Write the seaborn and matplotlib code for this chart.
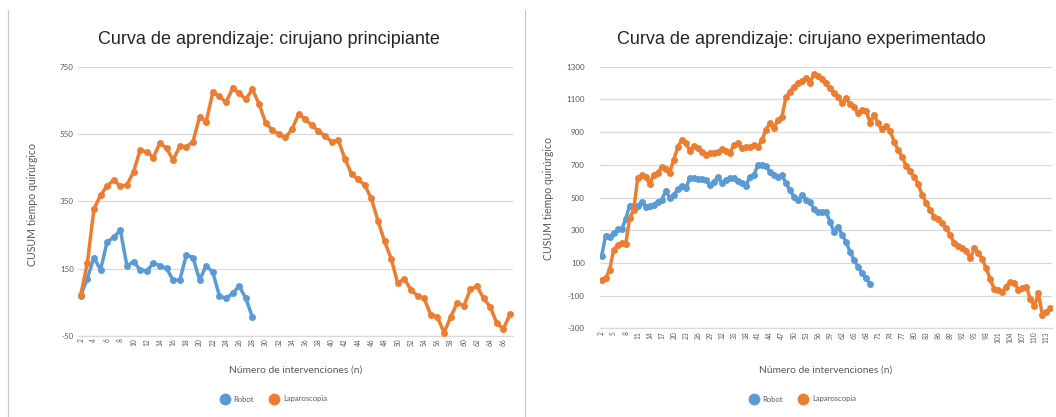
import matplotlib
matplotlib.use("Agg")
import matplotlib.pyplot as plt
from matplotlib.lines import Line2D
import pandas as pd
import seaborn as sns

# ---------------- data ----------------
left_robot = [69, 120, 183, 146, 230, 243, 265, 158, 171, 146, 143, 166, 159, 151,
              115, 116, 191, 183, 116, 159, 139, 69, 61, 76, 98, 61, 5]
left_lap = [71, 166, 327, 369, 396, 414, 396, 399, 439, 503, 498, 481, 525, 508,
            474, 515, 513, 528, 603, 588, 675, 663, 646, 687, 672, 655, 684, 641,
            585, 563, 550, 541, 566, 611, 595, 577, 560, 545, 528, 533, 477, 432,
            416, 399, 359, 293, 231, 180, 106, 120, 86, 69, 61, 12, 7, -41, 5, 48,
            39, 88, 98, 61, 36, -13, -29, 14]
right_robot = [142, 267, 261, 281, 305, 305, 367, 450, 450, 450, 475, 444, 450, 454,
               475, 485, 540, 499, 515, 550, 570, 556, 617, 617, 611, 611, 607, 577,
               597, 623, 591, 607, 617, 617, 603, 591, 570, 627, 638, 699, 699, 693,
               658, 638, 623, 638, 587, 546, 505, 485, 515, 485, 475, 428, 413, 413,
               413, 352, 291, 321, 271, 230, 169, 118, 77, 36, 6, -29]
right_lap = [-4, 6, 57, 179, 210, 224, 214, 373, 424, 617, 638, 627, 583, 638, 652,
             685, 672, 652, 729, 807, 852, 835, 786, 815, 804, 780, 760, 774, 774,
             780, 795, 786, 774, 821, 831, 801, 807, 811, 821, 807, 852, 913, 954,
             923, 974, 994, 1112, 1147, 1178, 1198, 1213, 1229, 1202, 1255, 1243,
             1225, 1198, 1168, 1137, 1117, 1080, 1106, 1072, 1055, 1015, 1035, 1031,
             958, 1004, 954, 917, 937, 909, 841, 790, 750, 693, 660, 627, 583, 515,
             468, 424, 383, 366, 342, 312, 271, 220, 203, 189, 175, 128, 189, 162,
             122, 67, 0, -61, -65, -76, -45, -14, -21, -65, -55, -45, -123, -163,
             -86, -218, -198, -177]
first_n = 2
left_xticks = list(range(2, 67, 2))
right_xticks = list(range(2, 114, 3))
left_yticks = [-50, 150, 350, 550, 750]
right_yticks = [-300, -100, 100, 300, 500, 700, 900, 1100, 1300]
series_names = ["Robot", "Laparoscopia"]
titles = ["Curva de aprendizaje: cirujano principiante",
          "Curva de aprendizaje: cirujano experimentado"]
xlabel = "Número de intervenciones (n)"
ylabel = "CUSUM tiempo quirúrgico"

BLUE = "#5B9BD5"
ORANGE = "#ED7D31"
GRID = "#d9d9d9"
TXT = "#595959"

sns.set_theme(style="white")
plt.rcParams["font.family"] = ["Lato", "DejaVu Sans"]


def make_df(robot, lap):
    rows = []
    for name, vals in zip(series_names, [robot, lap]):
        for i, v in enumerate(vals):
            rows.append({"n": first_n + i, "cusum": v, "serie": name})
    return pd.DataFrame(rows)


W, H = 1056, 417
fig = plt.figure(figsize=(W / 100, H / 100), dpi=100)
ax1 = fig.add_axes([78 / W, 1 - 335.7 / H, (513 - 78) / W, (335.7 - 67.3) / H])
ax2 = fig.add_axes([600 / W, 1 - 328.3 / H, (1052 - 600) / W, (328.3 - 66.7) / H])

specs = [
    (ax1, make_df(left_robot, left_lap), (1.59, 67.45), (-50, 750), left_xticks, left_yticks, 3),
    (ax2, make_df(right_robot, right_lap), (1.6, 114.4), (-300, 1300), right_xticks, right_yticks, 11),
]

for ax, df, xl, yl, xt, yt, ypad in specs:
    sns.lineplot(data=df, x="n", y="cusum", hue="serie", palette=[BLUE, ORANGE],
                 marker="o", markersize=5, markeredgewidth=0, linewidth=2.5,
                 ax=ax, legend=False, zorder=3)
    ax.set_xlim(*xl)
    ax.set_ylim(*yl)
    ax.set_xticks(xt)
    ax.set_xticklabels([str(t) for t in xt], rotation=90, fontsize=4.8, color=TXT)
    ax.set_yticks(yt)
    ax.set_yticklabels([str(t) for t in yt], fontsize=5.8, color=TXT)
    ax.tick_params(axis="x", length=0, pad=2)
    ax.tick_params(axis="y", length=0, pad=ypad)
    ax.grid(axis="y", color=GRID, linewidth=0.9)
    ax.grid(axis="x", visible=False)
    for s in ["left", "right", "top"]:
        ax.spines[s].set_visible(False)
    ax.spines["bottom"].set_color(GRID)
    ax.spines["bottom"].set_linewidth(0.9)
    ax.set_xlabel("")
    ax.set_ylabel("")
    ax.set_axisbelow(True)

# titles
title_font = ["Liberation Sans", "DejaVu Sans"]
fig.text(269 / W, 1 - 40 / H, titles[0], ha="center", va="center", fontsize=13,
         color="#262626", family=title_font)
fig.text(801 / W, 1 - 40 / H, titles[1], ha="center", va="center", fontsize=13,
         color="#262626", family=title_font)

# axis labels
for cx in (296, 826):
    fig.text(cx / W, 1 - 370 / H, xlabel, ha="center", va="center", fontsize=7.4, color=TXT)
fig.text(33 / W, 1 - 204 / H, ylabel, ha="center", va="center", rotation=90,
         fontsize=7.6, color=TXT)
fig.text(549 / W, 1 - 198 / H, ylabel, ha="center", va="center", rotation=90,
         fontsize=7.6, color=TXT)

# legends
handles = [Line2D([], [], linestyle="none", marker="o", markersize=8.5,
                  markerfacecolor=c, markeredgewidth=0) for c in (BLUE, ORANGE)]
for cx in (274, 803):
    fig.legend(handles, series_names, loc="center", bbox_to_anchor=(cx / W, 1 - 399 / H),
               ncol=2, frameon=False, fontsize=5.5, handlelength=1.0,
               handletextpad=0.6, columnspacing=2.2, labelcolor=TXT)

# chart borders
for x in (8, 525):
    fig.add_artist(Line2D([x / W, x / W], [0.0, 1 - 10 / H], color="#c8c8c8",
                          linewidth=0.9, transform=fig.transFigure))

fig.savefig("out.png", dpi=100)
